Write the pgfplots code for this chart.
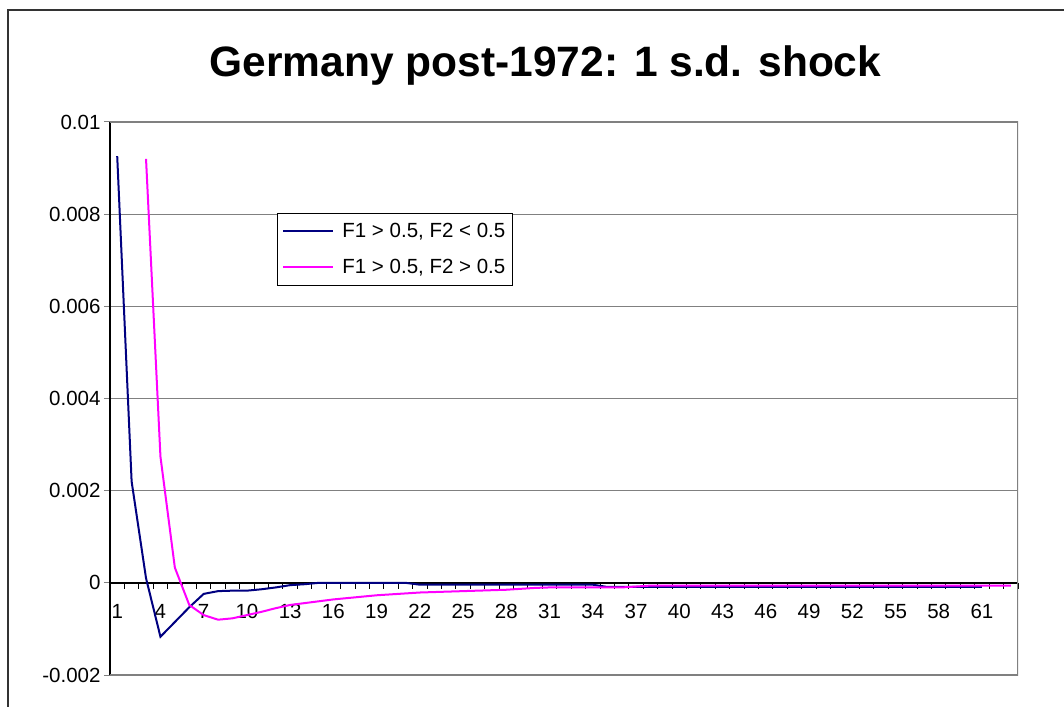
\documentclass[border=0pt]{standalone}
\usepackage{fontspec}
\setmainfont{Liberation Sans}
\usepackage{pgfplots}
\pgfplotsset{compat=1.18}
\definecolor{navyline}{RGB}{0,0,128}
\definecolor{pinkline}{RGB}{255,0,255}
\definecolor{gridgray}{RGB}{128,128,128}
\begin{document}
\begin{tikzpicture}
\useasboundingbox (-110pt,-31pt) rectangle (954pt,675pt);
\begin{axis}[
  scale only axis, width=908pt, height=553pt,
  at={(0pt,0pt)}, anchor=south west,
  xmin=0.5, xmax=63.5, ymin=-0.002, ymax=0.01,
  enlargelimits=false,
  axis x line=middle, axis y line=left,
  axis line style={-, black, line width=1.5pt},
  hide obscured x ticks=false, hide obscured y ticks=false,
  xtick={1,4,...,61},
  minor xtick={1.5,2.5,...,63.5},
  major x tick style={draw=none},
  minor x tick style={black, line width=1pt},
  minor tick length=6pt,
  xtick align=outside,
  xticklabel style={yshift=-12pt},
  scaled y ticks=false,
  ytick={-0.002,0,0.002,0.004,0.006,0.008,0.01},
  yticklabels={-0.002,0,0.002,0.004,0.006,0.008,0.01},
  ytick align=outside,
  major tick length=6pt,
  y tick style={gridgray, line width=1pt},
  ymajorgrids, grid style={gridgray, line width=1.2pt},
  tick label style={font=\fontsize{20.5}{24}\selectfont},
  /pgf/number format/assume math mode=true,
  legend style={at={(0.1839,0.8354)}, anchor=north west, draw=black,
    line width=0.8pt, fill=white, font=\fontsize{20.5}{24}\selectfont,
    inner xsep=5pt, inner ysep=8pt, row sep=16pt, cells={anchor=west}},
  legend image code/.code={\draw[#1] (0pt,0pt) -- (50pt,0pt); \path (56pt,0pt);},
]
\draw[gridgray, line width=1.5pt] (rel axis cs:0,1) -- (rel axis cs:1,1) -- (rel axis cs:1,0) -- (rel axis cs:0,0);
\addplot[navyline, line width=2pt] coordinates {
  (1,0.00926)(2,0.0022)(3,0.0001)(4,-0.00117)(5,-0.00085)(6,-0.00053)
  (7,-0.00024)(8,-0.00018)(9,-0.00017)(10,-0.00017)(11,-0.00014)(12,-0.0001)
  (13,-0.00005)(14,-0.00003)(15,0)(16,0)(17,0)(18,0)(19,0)(20,0)(21,0)
  (22,-0.00004)(23,-0.00004)(24,-0.00004)(25,-0.00004)(26,-0.00004)(27,-0.00004)
  (28,-0.00004)(29,-0.00004)(30,-0.00004)(31,-0.00004)(32,-0.00004)(33,-0.00004)
  (34,-0.00004)(35,-0.00009)(36,-0.00009)(37,-0.00009)(38,-0.00009)(39,-0.00009)
  (40,-0.00009)(41,-0.00009)(42,-0.00009)(43,-0.00009)(44,-0.00009)(45,-0.00009)
  (46,-0.00009)(47,-0.00009)(48,-0.00009)(49,-0.00009)(50,-0.00009)(51,-0.00009)
  (52,-0.00009)(53,-0.00009)(54,-0.00009)(55,-0.00009)(56,-0.00009)(57,-0.00009)
  (58,-0.00009)(59,-0.00009)(60,-0.00009)(61,-0.00009)};
\addlegendentry{F1 > 0.5, F2 < 0.5}
\addplot[pinkline, line width=2pt] coordinates {
  (3,0.0092)(4,0.00274)(5,0.00033)(6,-0.00048)(7,-0.0007)(8,-0.0008)
  (9,-0.00077)(10,-0.0007)(11,-0.00063)(12,-0.00055)(13,-0.00048)(14,-0.00044)
  (15,-0.0004)(16,-0.00036)(17,-0.00033)(18,-0.0003)(19,-0.00027)(20,-0.00025)
  (21,-0.00023)(22,-0.00021)(23,-0.0002)(24,-0.00019)(25,-0.00018)(26,-0.00017)
  (27,-0.00016)(28,-0.00015)(29,-0.00013)(30,-0.00011)(31,-0.0001)(32,-0.0001)
  (33,-0.0001)(34,-0.0001)(35,-0.0001)(36,-0.0001)(37,-0.00008)(38,-0.00006)
  (39,-0.00006)(40,-0.00006)(41,-0.00006)(42,-0.00006)(43,-0.00006)(44,-0.00006)
  (45,-0.00006)(46,-0.00006)(47,-0.00006)(48,-0.00006)(49,-0.00006)(50,-0.00006)
  (51,-0.00006)(52,-0.00006)(53,-0.00006)(54,-0.00006)(55,-0.00006)(56,-0.00006)
  (57,-0.00006)(58,-0.00006)(59,-0.00006)(60,-0.00006)(61,-0.00006)(62,-0.00006)
  (63,-0.00006)};
\addlegendentry{F1 > 0.5, F2 > 0.5}
\end{axis}
\node[anchor=base, font=\fontsize{42.5}{50}\selectfont\bfseries] at (435.5pt,598pt) {Germany post-1972: 1 s.d. shock};
\draw[line width=2pt, black!80] (-102pt,-40pt) -- (-102pt,665pt) -- (960pt,665pt);
\end{tikzpicture}
\end{document}
